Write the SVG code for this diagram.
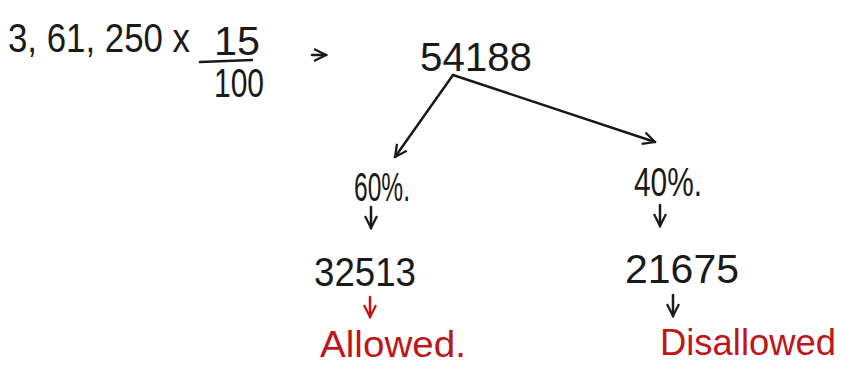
<svg xmlns="http://www.w3.org/2000/svg" width="849" height="367" viewBox="0 0 849 367">
<style>
.t{font-family:"Liberation Sans",Arial,sans-serif;fill:#1a1a1a;font-size:40px}
.r{fill:#c0151a;font-size:37px}
.ln{stroke:#1a1a1a;stroke-width:2.5;fill:none;stroke-linecap:round;stroke-linejoin:round}
.lr{stroke:#c0151a}
</style>
<defs>
<marker id="ah" viewBox="0 0 10 10" refX="9" refY="5" markerWidth="6" markerHeight="6" orient="auto" markerUnits="strokeWidth">
<path d="M1,1 L9,5 L1,9" fill="none" stroke="#1a1a1a" stroke-width="1.5"/>
</marker>
<marker id="ahr" viewBox="0 0 10 10" refX="9" refY="5" markerWidth="6" markerHeight="6" orient="auto" markerUnits="strokeWidth">
<path d="M1,1 L9,5 L1,9" fill="none" stroke="#c0151a" stroke-width="1.5"/>
</marker>
</defs>
<rect width="849" height="367" fill="#fff"/>
<g id="formula">
<text class="t" x="8" y="52" textLength="182" lengthAdjust="spacingAndGlyphs">3, 61, 250 x</text>
<text class="t" x="214" y="55" textLength="46" lengthAdjust="spacingAndGlyphs">15</text>
<line class="ln" x1="200" y1="62" x2="252" y2="60"/>
<text class="t" x="214" y="97" textLength="50" lengthAdjust="spacingAndGlyphs">100</text>
<line class="ln" x1="312" y1="55" x2="326" y2="55" marker-end="url(#ah)"/>
</g>
<g id="total">
<text class="t" x="420" y="71" font-size="44" textLength="112" lengthAdjust="spacingAndGlyphs">54188</text>
</g>
<g id="connectors">
<path class="ln" d="M453,75 L395,157" marker-end="url(#ah)"/>
<path class="ln" d="M453,75 L655,142" marker-end="url(#ah)"/>
<line class="ln" x1="371" y1="207" x2="371" y2="228" marker-end="url(#ah)"/>
<line class="ln" x1="660" y1="205" x2="660" y2="226" marker-end="url(#ah)"/>
<line class="ln lr" x1="370" y1="297" x2="370" y2="317" marker-end="url(#ahr)"/>
<line class="ln" x1="673" y1="295" x2="673" y2="316" marker-end="url(#ah)"/>
</g>
<g id="left-pct">
<text class="t" x="354" y="201" font-size="36" textLength="56" lengthAdjust="spacingAndGlyphs">60%.</text>
</g>
<g id="left-val">
<text class="t" x="314" y="286" textLength="102" lengthAdjust="spacingAndGlyphs">32513</text>
</g>
<g id="allowed">
<text class="t r" x="320" y="357" textLength="146" lengthAdjust="spacingAndGlyphs">Allowed.</text>
</g>
<g id="right-pct">
<text class="t" x="634" y="196" font-size="36" textLength="68" lengthAdjust="spacingAndGlyphs">40%.</text>
</g>
<g id="right-val">
<text class="t" x="625" y="283" textLength="114" lengthAdjust="spacingAndGlyphs">21675</text>
</g>
<g id="disallowed">
<text class="t r" x="660" y="355" textLength="176" lengthAdjust="spacingAndGlyphs">Disallowed</text>
</g>
</svg>
